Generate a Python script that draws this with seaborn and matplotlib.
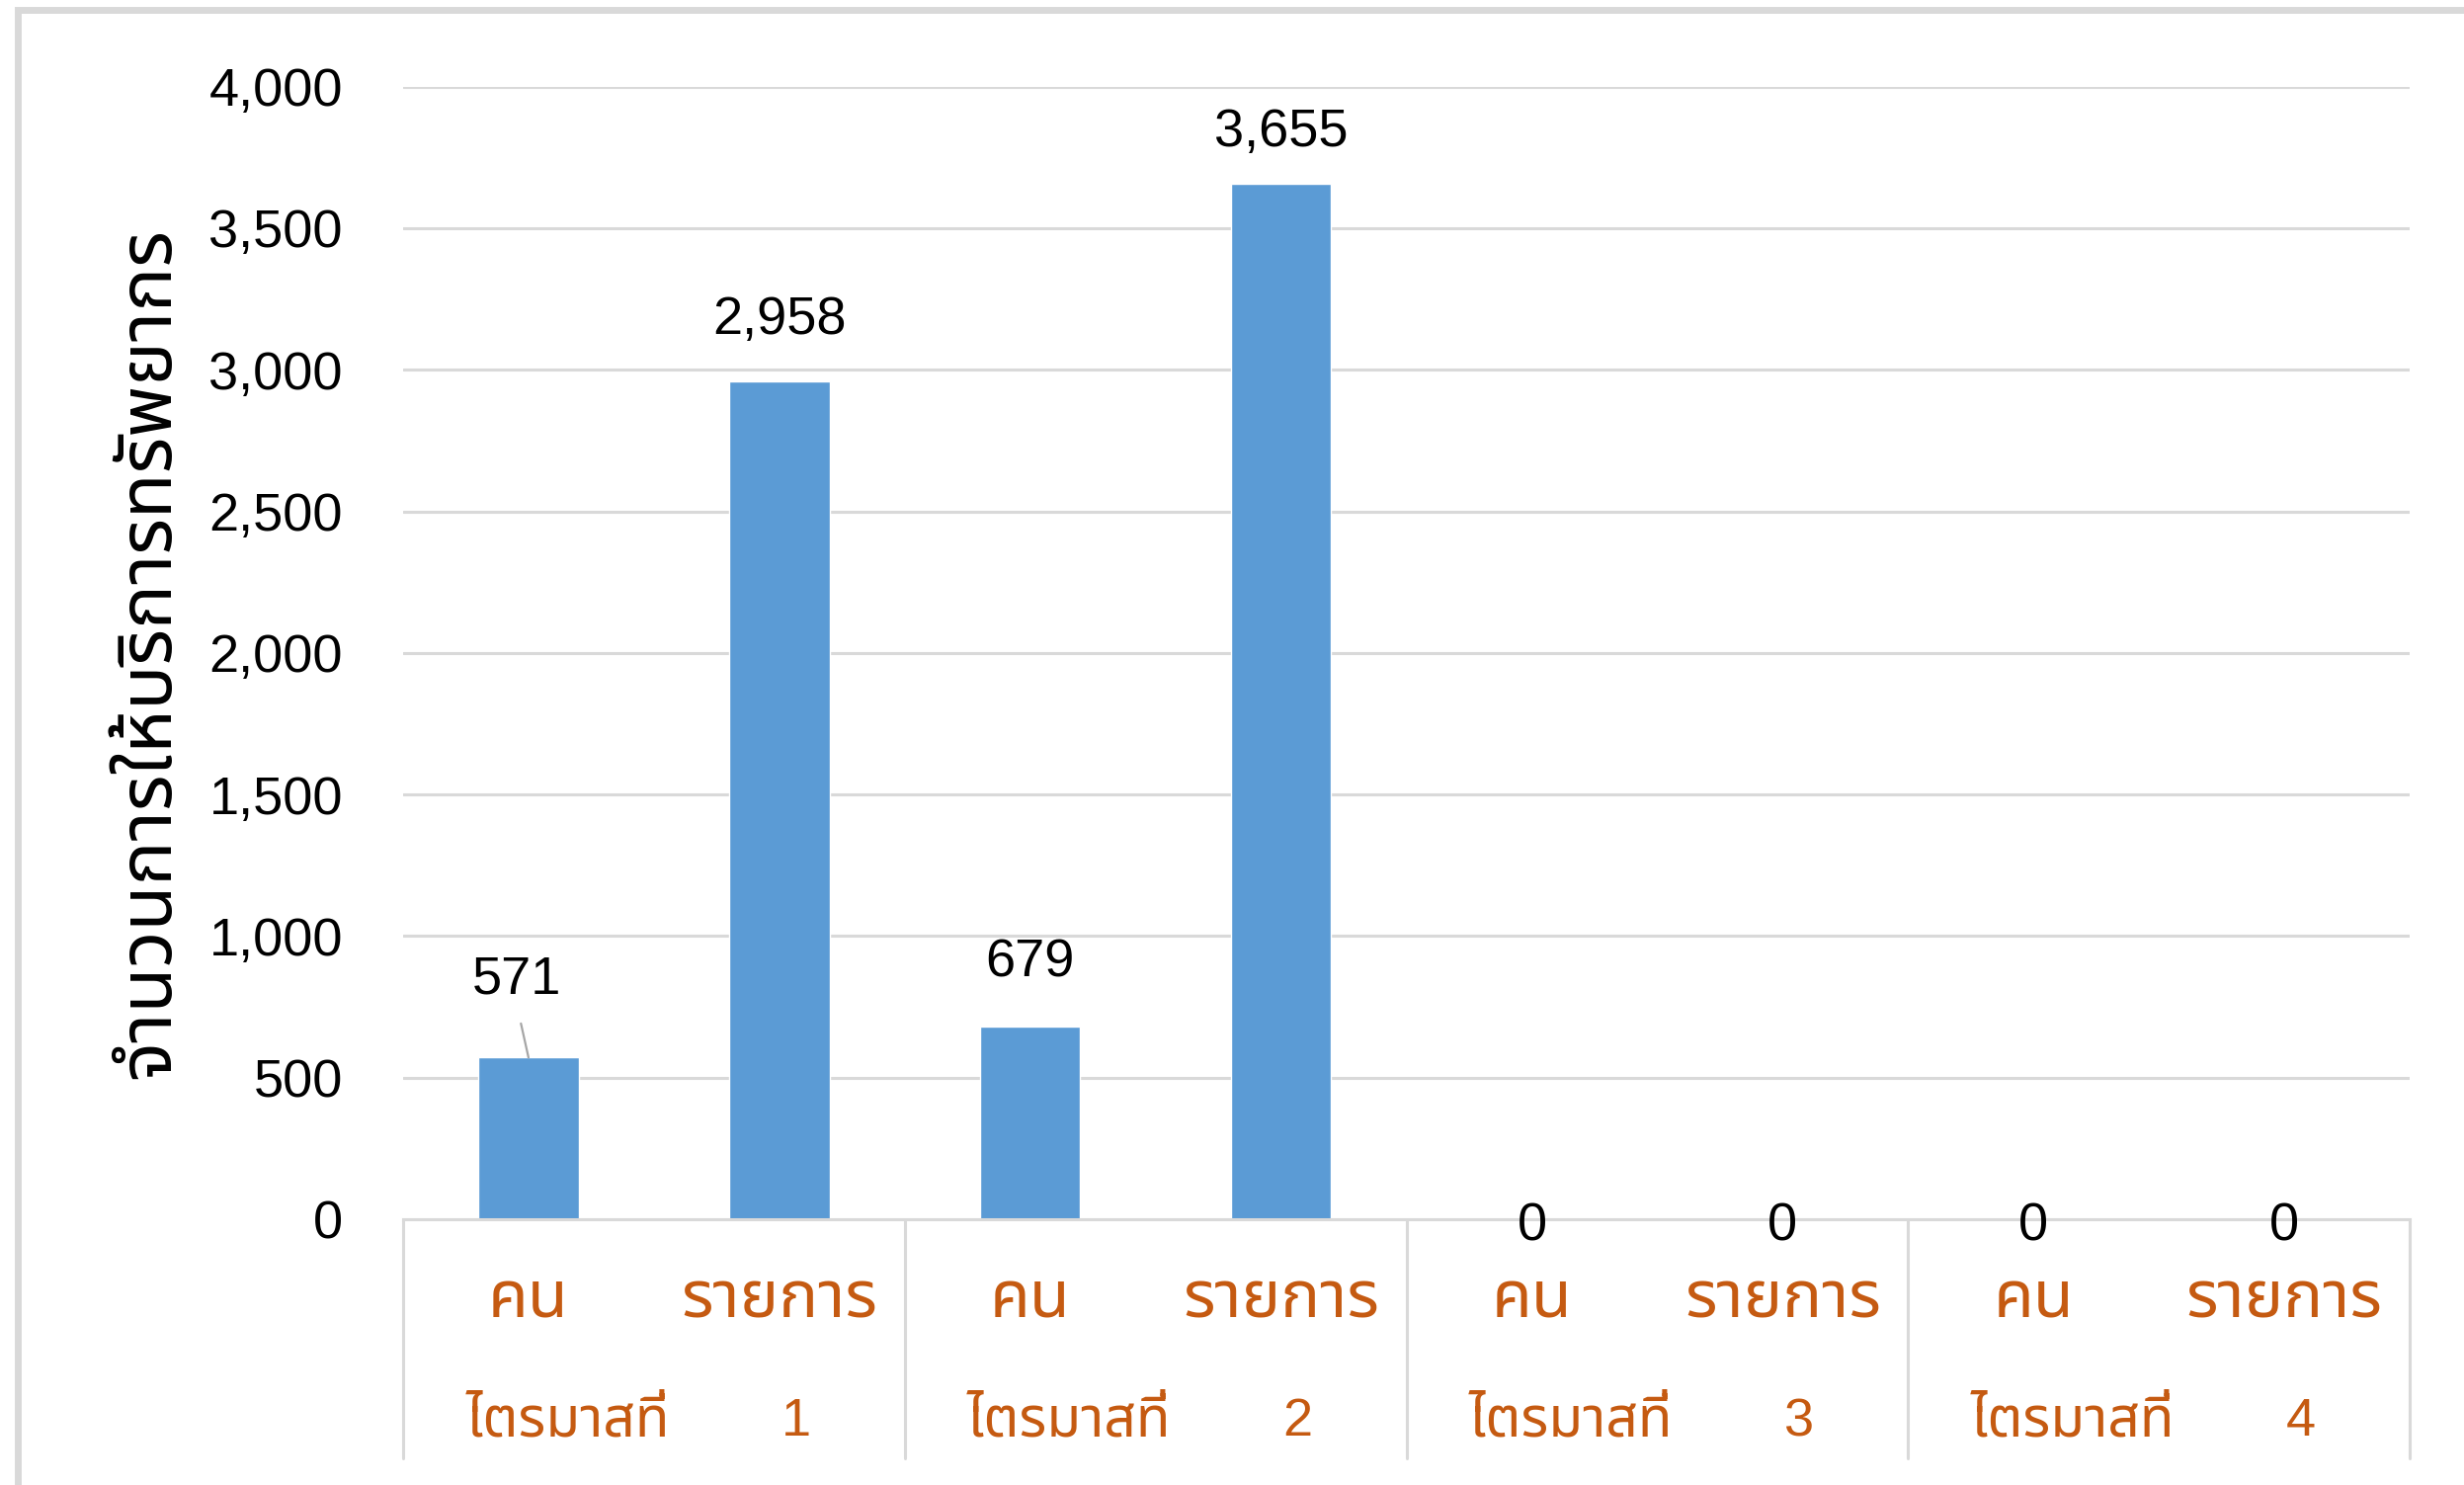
import pandas as pd
import seaborn as sns
import matplotlib.pyplot as plt
import matplotlib.transforms as mtransforms
from matplotlib import font_manager, ft2font
from matplotlib.patches import Rectangle
from matplotlib.ticker import FuncFormatter

# data
quarter_word = "ไตรมาสที่"
quarter_nums = ["1", "2", "3", "4"]
kinds = ["คน", "รายการ"]
people = [571, 679, 0, 0]
items = [2958, 3655, 0, 0]
y_ticks = [0, 500, 1000, 1500, 2000, 2500, 3000, 3500, 4000]
y_label = "จำนวนการให้บริการทรัพยากร"

# label nudges in pixels (Excel moved some labels by hand)
label_dy = [65, 48, 51, 38, -21, -21, -21, -21]
label_dx = [-12, 0, 0, 0, 0, 0, 0, 0]


def find_thai_font():
    sample = set("จำนวนการให้บริการทรัพยากรคนไตรมาสที่")
    preferred = ["Tahoma", "Leelawadee UI", "Leelawadee", "Noto Sans Thai",
                 "Noto Sans Thai UI", "Loma", "Garuda", "Umpush", "Sawasdee",
                 "Waree", "Kinnari", "Norasi", "Tlwg Typo"]
    found = {}
    for f in font_manager.fontManager.ttflist:
        if f.name in found:
            continue
        try:
            cmap = ft2font.FT2Font(f.fname).get_charmap()
        except Exception:
            continue
        if all(ord(c) in cmap for c in sample):
            found[f.name] = f.fname
    for name in preferred:
        if name in found:
            return name
    return next(iter(found), "DejaVu Sans")


thai = find_thai_font()
sns.set_theme(style="white")
fam = ["Liberation Sans", thai, "DejaVu Sans"]
plt.rcParams["font.family"] = fam

rows = []
for q, p, it in zip(quarter_nums, people, items):
    rows.append({"quarter": q, "kind": kinds[0], "value": p})
    rows.append({"quarter": q, "kind": kinds[1], "value": it})
df = pd.DataFrame(rows)
df["slot"] = df["quarter"] + "|" + df["kind"]
order = list(df["slot"])

W, H = 2494, 1503
fig = plt.figure(figsize=(W / 100, H / 100), dpi=100)
ax = fig.add_axes([408 / W, 1 - 1234 / H, 2031 / W, (1234 - 87.6) / H])

sns.barplot(data=df, x="slot", y="value", order=order, color="#5B9BD5",
            saturation=1, width=0.4, errorbar=None, ax=ax)

ax.set_xlim(-0.5, len(order) - 0.5)
ax.set_ylim(0, 4000)
ax.set_yticks(y_ticks)
ax.yaxis.set_major_formatter(FuncFormatter(lambda v, _: f"{v:,.0f}"))
ax.set_xticks([])
ax.set_xlabel("")
ax.set_ylabel("")
ax.grid(axis="y", color="#d9d9d9", lw=2.2)
ax.set_axisbelow(True)
for s in ["left", "right", "top"]:
    ax.spines[s].set_visible(False)
ax.spines["bottom"].set_color("#d9d9d9")
ax.spines["bottom"].set_linewidth(2.2)
ax.tick_params(axis="y", length=0, pad=44, labelsize=39, labelcolor="black")

px = 0.72  # points per pixel at 100 dpi

# value labels
for i, bar in enumerate(ax.patches):
    xc = bar.get_x() + bar.get_width() / 2
    h = bar.get_height()
    txt = f"{df['value'].iloc[i]:,}"
    if i == 0:
        ax.annotate(txt, xy=(xc, h), xytext=(label_dx[i] * px, label_dy[i] * px),
                    textcoords="offset points", ha="center", va="baseline",
                    fontsize=39, color="black",
                    arrowprops=dict(arrowstyle="-", color="#a6a6a6", lw=1.6,
                                    relpos=(0.5, 0), shrinkA=12, shrinkB=0))
    else:
        ax.annotate(txt, xy=(xc, h), xytext=(label_dx[i] * px, label_dy[i] * px),
                    textcoords="offset points", ha="center", va="baseline",
                    fontsize=39, color="black")

# category axis: kinds, quarters and separators
orange = "#C55A11"
for i, k in enumerate(df["kind"]):
    ax.annotate(k, xy=(i, 0), xycoords=("data", "axes fraction"),
                xytext=(0, -99 * px), textcoords="offset points",
                ha="center", va="baseline", fontsize=48,
                color=orange, annotation_clip=False)
for g, n in enumerate(quarter_nums):
    ax.annotate(quarter_word, xy=(2 * g + 0.5, 0), xycoords=("data", "axes fraction"),
                xytext=(16 * px, -219 * px), textcoords="offset points",
                ha="right", va="baseline", fontsize=41,
                color=orange, annotation_clip=False)
    ax.annotate(n, xy=(2 * g + 0.5, 0), xycoords=("data", "axes fraction"),
                xytext=(144 * px, -219 * px), textcoords="offset points",
                ha="center", va="baseline", fontsize=39,
                color=orange, annotation_clip=False)
trans = mtransforms.blended_transform_factory(ax.transData, ax.transAxes)
sep_bottom = -242 / (1234 - 87.6)
for xs in range(-1, len(order), 2):
    ax.plot([xs + 0.5, xs + 0.5], [0, sep_bottom], transform=trans,
            color="#d9d9d9", lw=2.2, clip_on=False)

fig.text(171 / W, 1 - 661 / H, y_label, rotation=90, rotation_mode="anchor",
         ha="center", va="baseline", fontsize=54, color="black")

# chart area border (right and bottom fall outside the picture)
fig.add_artist(Rectangle((17.5 / W, -0.05), 1.1, 1.05 - 9.5 / H,
                         transform=fig.transFigure, fill=False,
                         edgecolor="#d9d9d9", lw=5))

plt.savefig("out.png", dpi=100)
